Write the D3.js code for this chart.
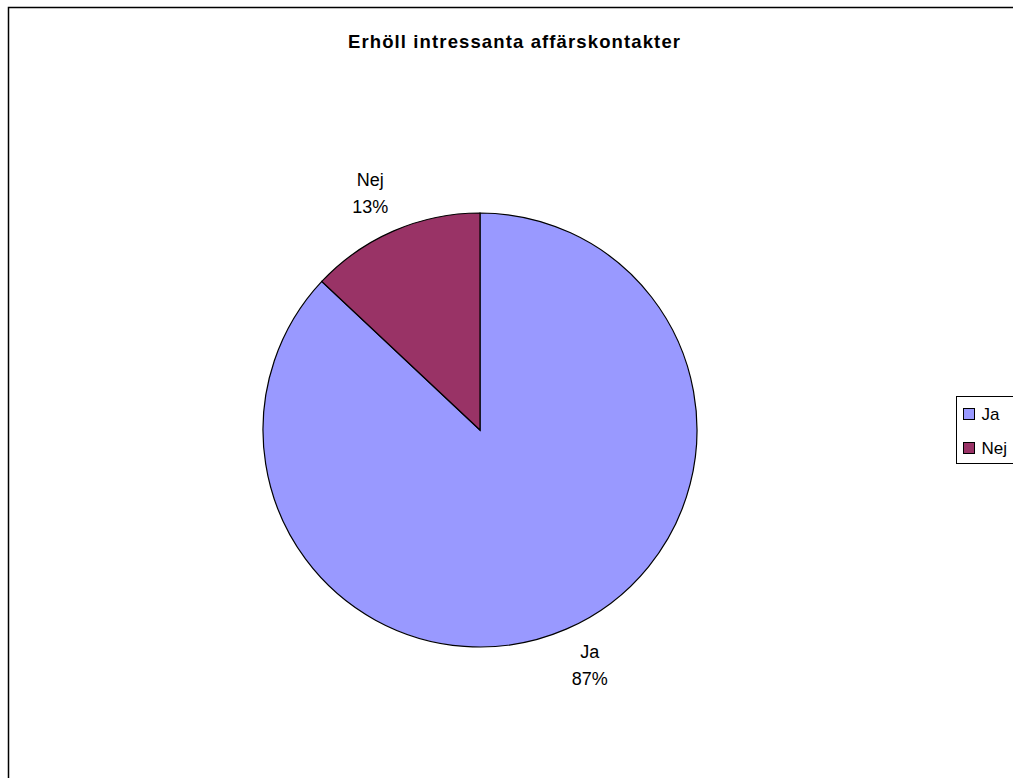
<!DOCTYPE html>
<html>
<head>
<meta charset="utf-8">
<script src="https://cdn.jsdelivr.net/npm/d3@7"></script>
<style>
html, body { margin: 0; padding: 0; background: #fff; }
svg { display: block; }
text { font-family: "Liberation Sans", Arial, sans-serif; fill: #000; }
</style>
</head>
<body>
<svg id="chart" width="1013" height="778"></svg>
<script>
const title = "Erhöll intressanta affärskontakter";
const categories = ["Ja", "Nej"];
const values = [87, 13];
const colors = ["#9999FF", "#993366"];

const svg = d3.select("#chart");

// chart area border (extends beyond right/bottom edges)
svg.append("rect")
  .attr("x", 8.5).attr("y", 7.5)
  .attr("width", 1020).attr("height", 800)
  .attr("fill", "#fff").attr("stroke", "#000").attr("stroke-width", 1.5);

svg.append("text")
  .attr("x", 348).attr("y", 48)
  .attr("font-size", 18.5).attr("font-weight", "bold")
  .attr("textLength", 332).attr("lengthAdjust", "spacing")
  .text(title);

const cx = 480, cy = 430, r = 217;
const data = categories.map((c, i) => ({ cat: c, value: values[i], color: colors[i] }));
const pie = d3.pie().value(d => d.value).sort(null);
const arcs = pie(data);
const arc = d3.arc().innerRadius(0).outerRadius(r);

const g = svg.append("g").attr("transform", `translate(${cx},${cy})`);
g.selectAll("path").data(arcs).join("path")
  .attr("d", arc)
  .attr("fill", d => d.data.color)
  .attr("stroke", "#000").attr("stroke-width", 1.2);

const total = d3.sum(values);
const labelR = 260;
const lbl = g.selectAll("g.lbl").data(arcs).join("g").attr("class", "lbl")
  .attr("transform", d => {
    const a = (d.startAngle + d.endAngle) / 2 - 0.027;
    return `translate(${labelR * Math.sin(a)},${-labelR * Math.cos(a)})`;
  });
lbl.append("text").attr("text-anchor", "middle").attr("font-size", 18).attr("y", -8)
  .text(d => d.data.cat);
lbl.append("text").attr("text-anchor", "middle").attr("font-size", 18).attr("y", 19)
  .text(d => Math.round(d.data.value / total * 100) + "%");

// legend
const lg = svg.append("g");
lg.append("rect").attr("x", 956.5).attr("y", 396.5).attr("width", 70).attr("height", 67)
  .attr("fill", "#fff").attr("stroke", "#000").attr("stroke-width", 1);
const items = lg.selectAll("g.item").data(data).join("g").attr("class", "item")
  .attr("transform", (d, i) => `translate(963.5,${408.5 + i * 34})`);
items.append("rect").attr("width", 11).attr("height", 11)
  .attr("fill", d => d.color).attr("stroke", "#000").attr("stroke-width", 1);
items.append("text").attr("x", 18).attr("y", 11.5).attr("font-size", 17).text(d => d.cat);
</script>
</body>
</html>
